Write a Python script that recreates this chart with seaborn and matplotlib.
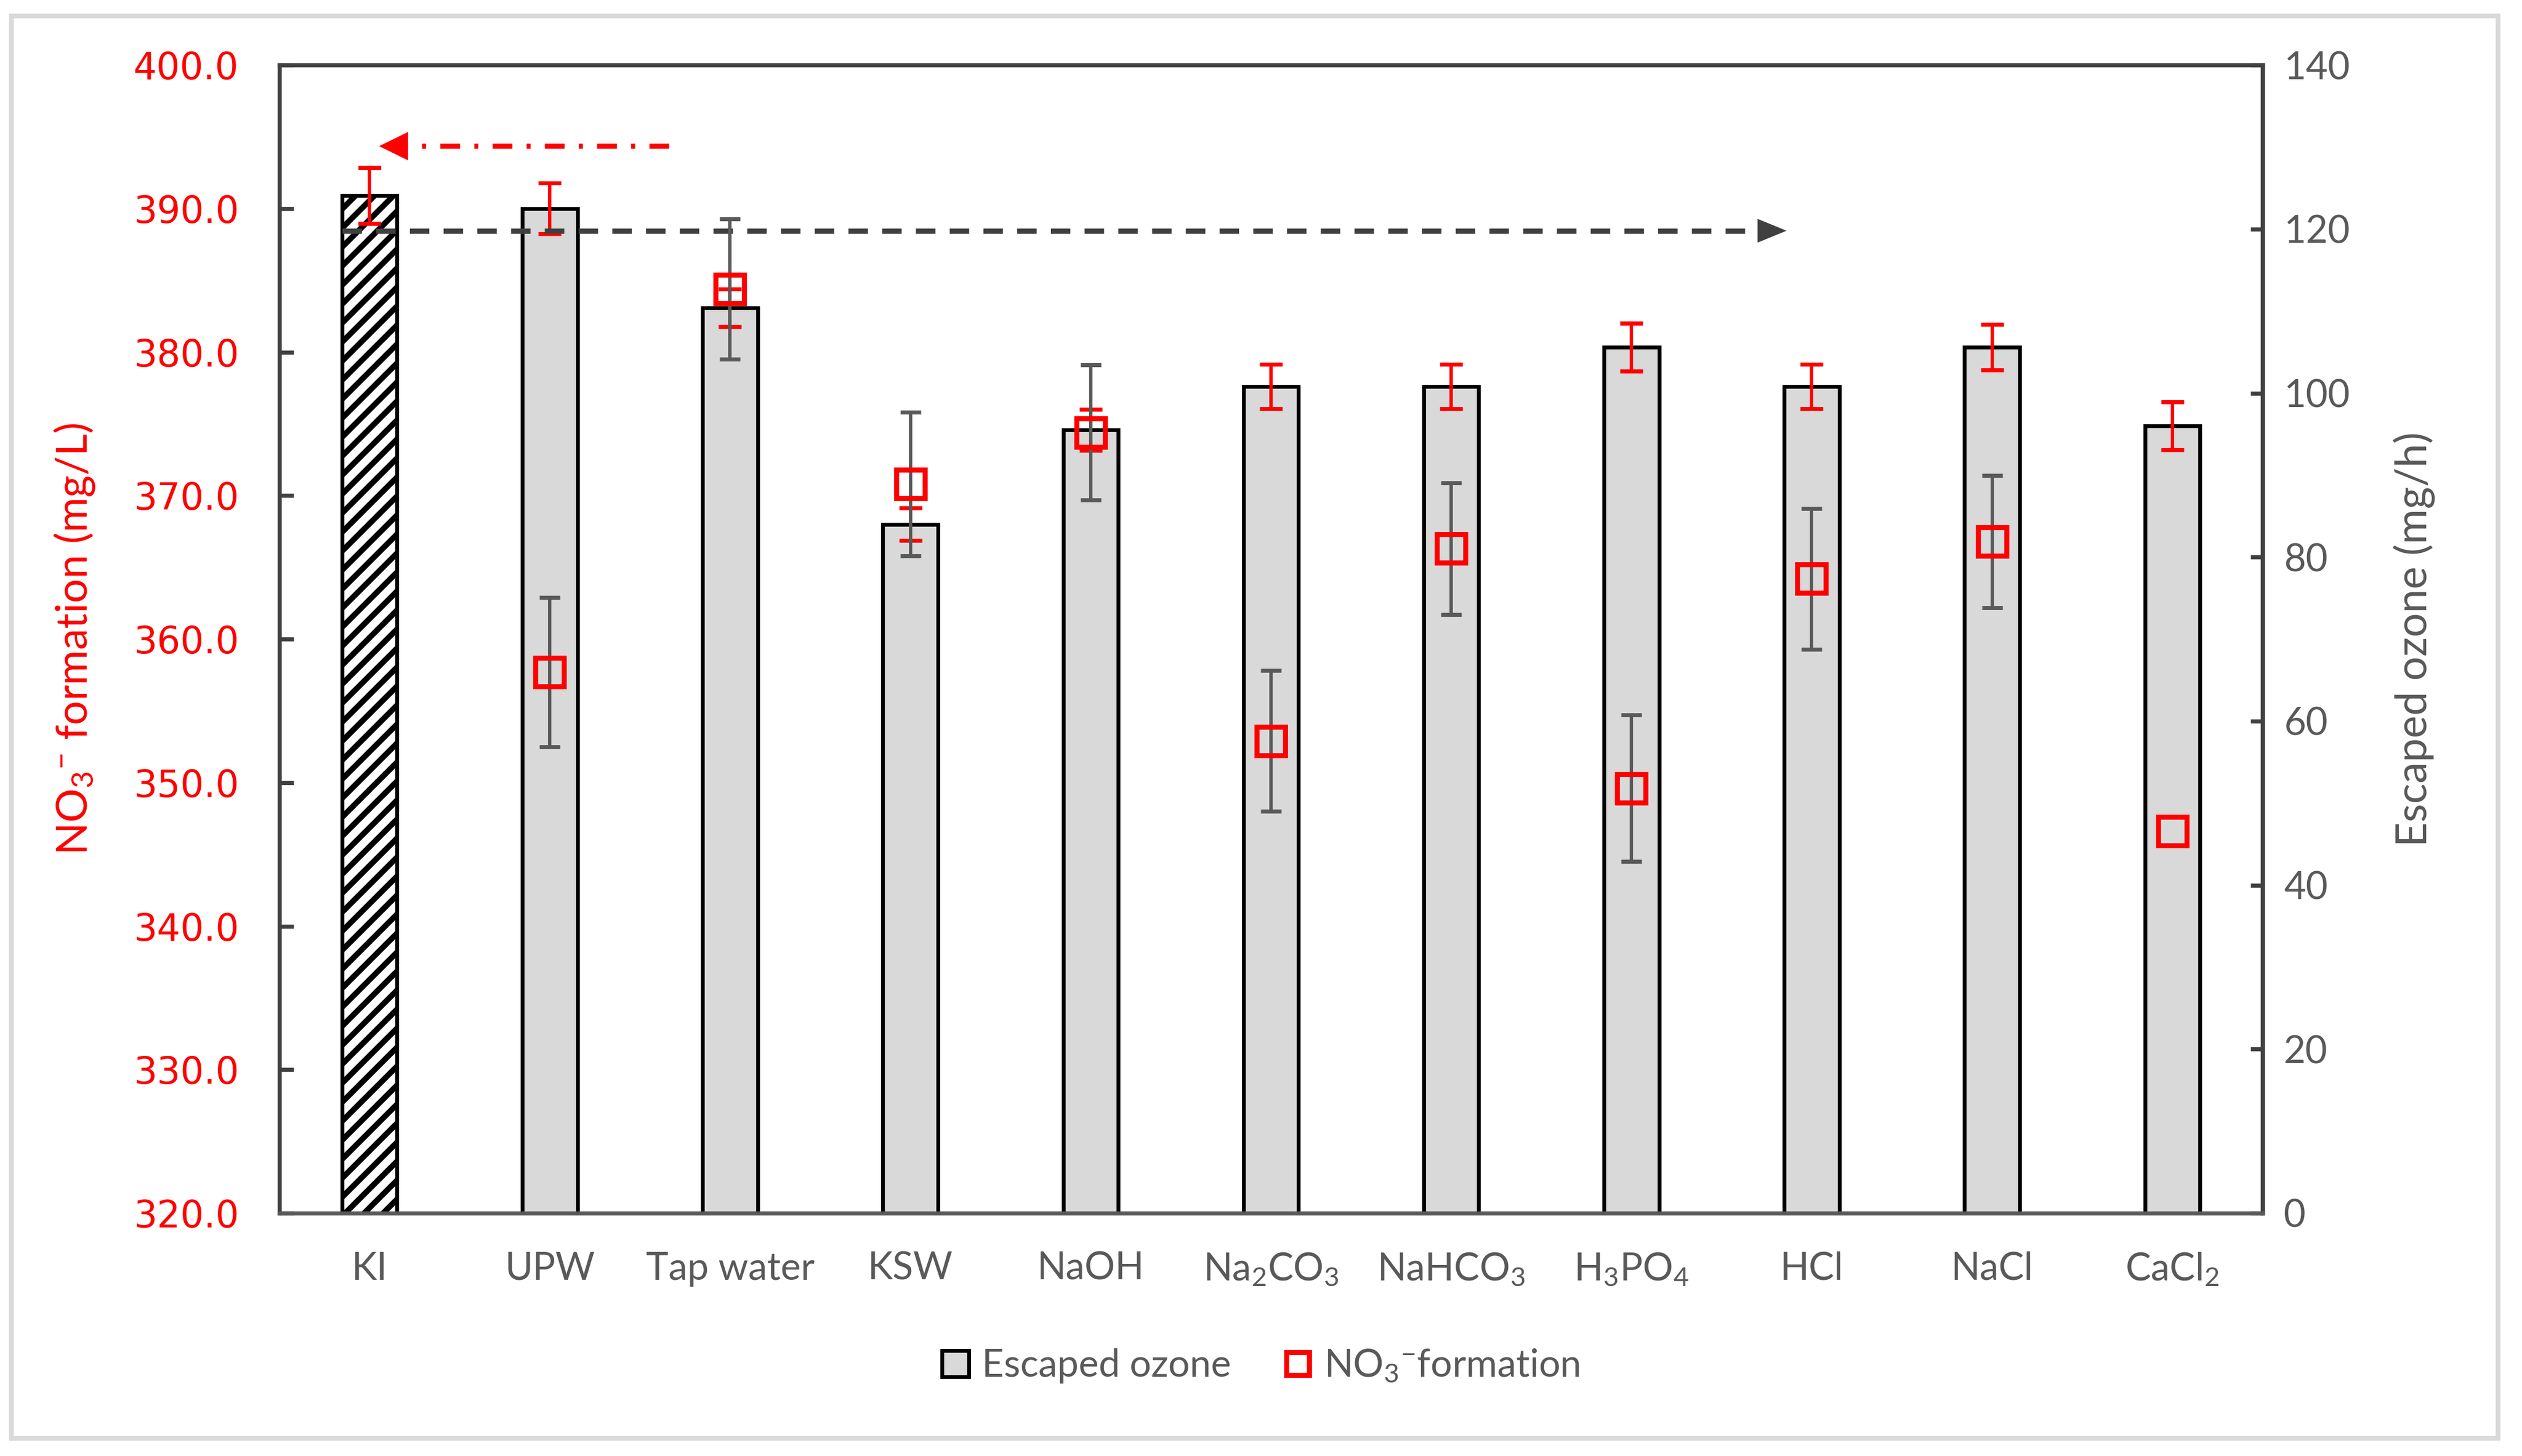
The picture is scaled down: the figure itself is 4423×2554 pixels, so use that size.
import numpy as np
import pandas as pd
import matplotlib.pyplot as plt
import matplotlib.patches as mpatches
from matplotlib.lines import Line2D
import seaborn as sns

sns.set_theme(style="white")
plt.rcParams["font.family"] = ["Lato", "DejaVu Sans"]
plt.rcParams["mathtext.default"] = "regular"
plt.rcParams["lines.scale_dashes"] = False
plt.rcParams["hatch.linewidth"] = 2.4

# ---- data ----
CATEGORIES  = ["KI", "UPW", "Tap water", "KSW", "NaOH", r"Na$_2$CO$_3$",
               r"NaHCO$_3$", r"H$_3$PO$_4$", "HCl", "NaCl", r"CaCl$_2$"]
OZONE       = [124.1, 122.5, 110.4, 84.0, 95.5, 100.8, 100.8, 105.6, 100.8, 105.6, 96.0]
OZONE_ERR   = [3.4, 3.1, 2.3, 2.0, 2.5, 2.7, 2.7, 2.9, 2.7, 2.8, 2.9]
NITRATE     = [np.nan, 357.7, 384.4, 370.8, 374.4, 352.9, 366.3, 349.6, 364.2, 366.8, 346.6]
NITRATE_ERR = [np.nan, 5.2, 4.9, 5.0, 4.7, 4.9, 4.6, 5.1, 4.9, 4.6, 0.0]
LEFT_TICKS  = [320, 330, 340, 350, 360, 370, 380, 390, 400]
RIGHT_TICKS = [0, 20, 40, 60, 80, 100, 120, 140]

RED   = "#FF0000"
GRAY  = "#595959"
AXIS  = "#404040"
BAR   = "#D9D9D9"
BAR_W = 0.305

df = pd.DataFrame({"sample": CATEGORIES, "ozone": OZONE})
x = np.arange(len(CATEGORIES))
nitrate = np.array(NITRATE, dtype=float)
nitrate_err = np.array(NITRATE_ERR, dtype=float)

fig = plt.figure(figsize=(4423 / 300, 2554 / 300), dpi=300)
ax = fig.add_axes([0.1108, 0.1668, 0.7863, 0.7885])
ax2 = ax.twinx()
ax.set_zorder(ax2.get_zorder() + 1)
ax.patch.set_visible(False)

# ---- bars: escaped ozone (right axis) ----
sns.barplot(data=df, x="sample", y="ozone", ax=ax2, color=BAR, saturation=1,
            width=BAR_W, edgecolor="black", linewidth=1.6, errorbar=None)
ki_bar = ax2.patches[0]
ki_bar.set_facecolor("white")
ki_bar.set_hatch("///")
ax2.errorbar(x, OZONE, yerr=OZONE_ERR, fmt="none", ecolor=RED,
             elinewidth=1.4, capsize=4.7, capthick=1.7, zorder=5)

# ---- squares: NO3- formation (left axis) ----
has_err = nitrate_err > 0
ax.errorbar(x[has_err], nitrate[has_err], yerr=nitrate_err[has_err], fmt="none",
            ecolor=GRAY, elinewidth=1.4, capsize=4.4, capthick=1.7, zorder=3)
ax.plot(x, nitrate, ls="none", marker="s", ms=11.8, mfc="none",
        mec=RED, mew=2.1, zorder=4)

# ---- arrows ----
HEAD_LEN = 0.161
red_y, red_tail, red_tip = 394.35, 1.66, 0.053
ax.plot([red_tail, red_tip + HEAD_LEN], [red_y, red_y], color=RED, lw=2.1,
        ls=(0, (8.3, 6.0, 1.7, 6.0)), zorder=6)
ax.annotate("", xy=(red_tip, red_y), xytext=(red_tip + HEAD_LEN, red_y),
            arrowprops=dict(arrowstyle="-|>,head_length=1.22,head_width=0.6",
                            color=RED, lw=0, shrinkA=0, shrinkB=0, mutation_scale=10))

blk_y, blk_tail, blk_tip = 119.8, -BAR_W / 2, 7.86
ax2.plot([blk_tail, blk_tip - HEAD_LEN], [blk_y, blk_y], color=AXIS, lw=2.2,
         ls=(0, (8.2, 6.0)), zorder=6)
ax2.annotate("", xy=(blk_tip, blk_y), xytext=(blk_tip - HEAD_LEN, blk_y),
             arrowprops=dict(arrowstyle="-|>,head_length=1.22,head_width=0.5",
                             color=AXIS, lw=0, shrinkA=0, shrinkB=0, mutation_scale=10))

# ---- axes styling ----
ax.set_xlim(-0.5, len(CATEGORIES) - 0.5)
ax.set_ylim(320, 400)
ax2.set_ylim(0, 140)

ax.set_xticks(x, labels=CATEGORIES)
ax.set_yticks(LEFT_TICKS, labels=[f"{v:.1f}" for v in LEFT_TICKS], fontfamily="DejaVu Sans")
ax2.set_yticks(RIGHT_TICKS, labels=[str(v) for v in RIGHT_TICKS])

ax.tick_params(axis="x", bottom=True, length=0, labelcolor=GRAY, labelsize=16, pad=16)
ax.tick_params(axis="y", left=True, direction="in", length=6, width=1.75,
               color=AXIS, labelcolor=RED, labelsize=15.5, pad=17)
ax2.tick_params(axis="y", right=True, direction="in", length=5, width=1.75,
                color=AXIS, labelcolor=GRAY, labelsize=16, pad=9)

for side in ["left", "top", "right"]:
    ax.spines[side].set_color(AXIS)
    ax.spines[side].set_linewidth(1.75)
ax.spines["bottom"].set_color(GRAY)
ax.spines["bottom"].set_linewidth(1.75)
for side in ["left", "top", "bottom"]:
    ax2.spines[side].set_visible(False)
ax2.spines["right"].set_color(AXIS)
ax2.spines["right"].set_linewidth(1.75)

ax.set_xlabel("")
ax2.set_xlabel("")
ax.set_ylabel(r"NO$_3{}^{-}$ formation (mg/L)", color=RED, fontsize=18)
ax.yaxis.set_label_coords(-0.092, 0.5)
ax2.set_ylabel("Escaped ozone (mg/h)", color=GRAY, fontsize=18)
ax2.yaxis.set_label_coords(1.066, 0.5)

# ---- legend ----
handles = [
    mpatches.Patch(facecolor=BAR, edgecolor="black", linewidth=1.6, label="Escaped ozone"),
    Line2D([], [], ls="none", marker="s", ms=9.5, mfc="none", mec=RED, mew=2.1,
           label=r"NO$_3{}^{-}$formation"),
]
fig.legend(handles=handles, loc="center", bbox_to_anchor=(0.5, 0.062), ncol=2,
           frameon=False, fontsize=16, labelcolor=GRAY, handlelength=0.7,
           handleheight=0.7, handletextpad=0.35, columnspacing=1.4)

# chart-area border
fig.add_artist(mpatches.Rectangle((20 / 4423, 1 - 2523 / 2554), 4361 / 4423, 2495 / 2554,
                                  transform=fig.transFigure, fill=False,
                                  edgecolor=BAR, linewidth=2))

fig.savefig("out.png", dpi=300)
